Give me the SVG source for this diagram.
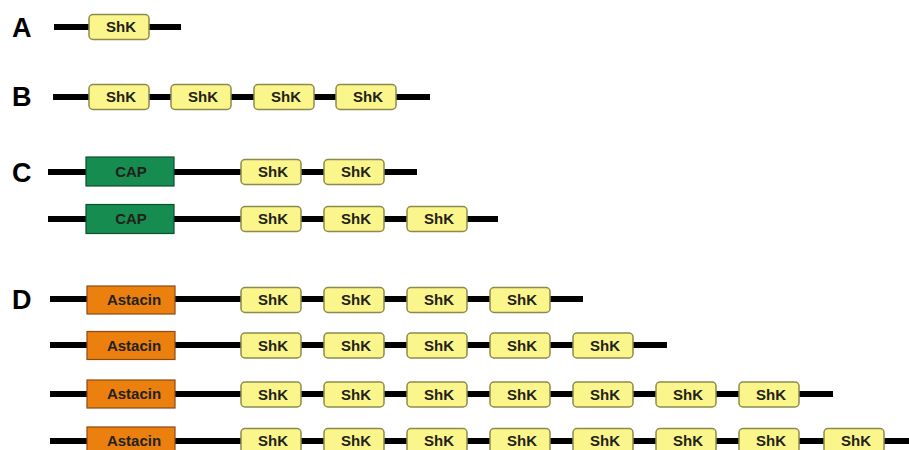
<svg xmlns="http://www.w3.org/2000/svg" width="909" height="450" viewBox="0 0 909 450">
<style>
.bb{stroke:#000;stroke-width:6;fill:none}
.shk{fill:#fbf68c;stroke:#8d8a4c;stroke-width:1.5}
.cap{fill:#168c50;stroke:#0e4f2c;stroke-width:1.2}
.ast{fill:#ec800f;stroke:#8a4a12;stroke-width:1.2}
.t{font-family:"Liberation Sans",Arial,sans-serif;font-weight:bold;font-size:15px;fill:#22221a;text-anchor:middle}
.lab{font-family:"Liberation Sans",Arial,sans-serif;font-weight:bold;font-size:27px;fill:#000}
</style>
<defs>
<g id="shkbox"><rect class="shk" x="0" y="-12.5" width="60" height="25" rx="4"/><text class="t" x="32" y="5">ShK</text></g>
<g id="capbox"><rect class="cap" x="0" y="-14.5" width="88" height="29"/><text class="t" x="45" y="5">CAP</text></g>
<g id="astbox"><rect class="ast" x="0" y="-14" width="88" height="28"/><text class="t" x="47" y="5">Astacin</text></g>
</defs>
<g id="labels">
<text class="lab" x="12" y="37">A</text>
<text class="lab" x="12" y="106">B</text>
<text class="lab" x="12" y="182">C</text>
<text class="lab" x="12" y="309">D</text>
</g>
<g id="connectors">
<line class="bb" x1="54" y1="27" x2="181" y2="27"/>
<line class="bb" x1="53" y1="97" x2="430" y2="97"/>
<line class="bb" x1="48" y1="172" x2="417" y2="172"/>
<line class="bb" x1="48" y1="219" x2="498" y2="219"/>
<line class="bb" x1="50" y1="299" x2="583" y2="299"/>
<line class="bb" x1="50" y1="345" x2="667" y2="345"/>
<line class="bb" x1="50" y1="394" x2="833" y2="394"/>
<line class="bb" x1="50" y1="441" x2="909" y2="441"/>
</g>
<g id="rowA">
<use id="A-shk1" href="#shkbox" x="89" y="27"/>
</g>
<g id="rowB">
<use id="B-shk1" href="#shkbox" x="89" y="97"/>
<use id="B-shk2" href="#shkbox" x="171" y="97"/>
<use id="B-shk3" href="#shkbox" x="254" y="97"/>
<use id="B-shk4" href="#shkbox" x="336" y="97"/>
</g>
<g id="rowC1">
<use id="C1-cap" href="#capbox" x="86" y="171.5"/>
<use id="C1-shk1" href="#shkbox" x="241" y="172"/>
<use id="C1-shk2" href="#shkbox" x="324" y="172"/>
</g>
<g id="rowC2">
<use id="C2-cap" href="#capbox" x="86" y="219"/>
<use id="C2-shk1" href="#shkbox" x="241" y="219"/>
<use id="C2-shk2" href="#shkbox" x="324" y="219"/>
<use id="C2-shk3" href="#shkbox" x="407" y="219"/>
</g>
<g id="rowD1">
<use id="D1-ast" href="#astbox" x="87" y="300"/>
<use id="D1-shk1" href="#shkbox" x="241" y="300"/>
<use id="D1-shk2" href="#shkbox" x="324" y="300"/>
<use id="D1-shk3" href="#shkbox" x="407" y="300"/>
<use id="D1-shk4" href="#shkbox" x="490" y="300"/>
</g>
<g id="rowD2">
<use id="D2-ast" href="#astbox" x="87" y="345.5"/>
<use id="D2-shk1" href="#shkbox" x="241" y="345.5"/>
<use id="D2-shk2" href="#shkbox" x="324" y="345.5"/>
<use id="D2-shk3" href="#shkbox" x="407" y="345.5"/>
<use id="D2-shk4" href="#shkbox" x="490" y="345.5"/>
<use id="D2-shk5" href="#shkbox" x="573" y="345.5"/>
</g>
<g id="rowD3">
<use id="D3-ast" href="#astbox" x="87" y="394"/>
<use id="D3-shk1" href="#shkbox" x="241" y="394.5"/>
<use id="D3-shk2" href="#shkbox" x="324" y="394.5"/>
<use id="D3-shk3" href="#shkbox" x="407" y="394.5"/>
<use id="D3-shk4" href="#shkbox" x="490" y="394.5"/>
<use id="D3-shk5" href="#shkbox" x="573" y="394.5"/>
<use id="D3-shk6" href="#shkbox" x="656" y="394.5"/>
<use id="D3-shk7" href="#shkbox" x="739" y="394.5"/>
</g>
<g id="rowD4">
<use id="D4-ast" href="#astbox" x="87" y="441"/>
<use id="D4-shk1" href="#shkbox" x="241" y="441"/>
<use id="D4-shk2" href="#shkbox" x="324" y="441"/>
<use id="D4-shk3" href="#shkbox" x="407" y="441"/>
<use id="D4-shk4" href="#shkbox" x="490" y="441"/>
<use id="D4-shk5" href="#shkbox" x="573" y="441"/>
<use id="D4-shk6" href="#shkbox" x="656" y="441"/>
<use id="D4-shk7" href="#shkbox" x="739" y="441"/>
<use id="D4-shk8" href="#shkbox" x="824" y="441"/>
</g>
</svg>
